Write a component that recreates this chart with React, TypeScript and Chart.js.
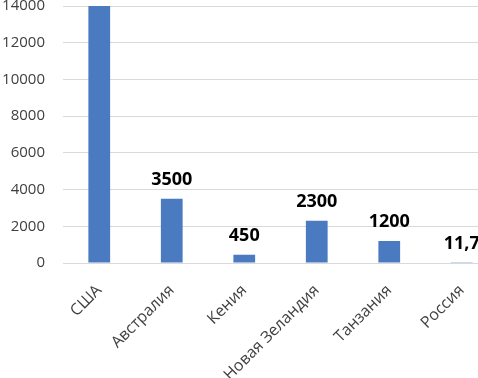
import React, { useEffect, useRef } from "react";
import { Chart, registerables } from "chart.js";

Chart.register(...registerables);

const categories: string[] = ["США", "Австралия", "Кения", "Новая Зеландия", "Танзания", "Россия"];
const values: number[] = [14000, 3500, 450, 2300, 1200, 11.7];
const yMin = 0;
const yMax = 14000;
const yStep = 2000;

const FONT = "'Open Sans', 'DejaVu Sans', sans-serif";

const dataLabelPlugin = {
  id: "dataLabels",
  afterDatasetsDraw(chart: any) {
    const ctx = chart.ctx;
    const meta = chart.getDatasetMeta(0);
    ctx.save();
    ctx.font = `bold 18px ${FONT}`;
    ctx.fillStyle = "#000000";
    ctx.textAlign = "center";
    ctx.textBaseline = "alphabetic";
    meta.data.forEach((bar: any, i: number) => {
      const v = values[i];
      const txt = String(v).replace(".", ",");
      ctx.fillText(txt, bar.x, bar.y - 14);
    });
    ctx.restore();
  },
};

export default function App() {
  const ref = useRef<HTMLCanvasElement | null>(null);
  useEffect(() => {
    if (!ref.current) return;
    const chart = new Chart(ref.current, {
      type: "bar",
      data: {
        labels: categories,
        datasets: [
          {
            data: values,
            backgroundColor: "#4a7bc0",
            barPercentage: 0.6,
            categoryPercentage: 0.5,
          },
        ],
      },
      options: {
        animation: false,
        responsive: false,
        devicePixelRatio: 1,
        layout: { padding: { top: 36, right: 32, bottom: 0, left: 0 } },
        plugins: { legend: { display: false }, tooltip: { enabled: false } },
        scales: {
          x: {
            grid: { display: false, drawTicks: false },
            border: { display: true, color: "#d9d9d9", width: 1 },
            ticks: {
              minRotation: 45,
              maxRotation: 45,
              autoSkip: false,
              padding: 18,
              color: "#404040",
              font: { family: FONT, size: 16 },
            },
            afterFit: (s: any) => {
              s.height = 115;
            },
          },
          y: {
            min: yMin,
            max: yMax,
            grid: { color: "#d9d9d9", drawTicks: false },
            border: { display: false },
            ticks: {
              stepSize: yStep,
              padding: 18,
              color: "#404040",
              font: { family: FONT, size: 15 },
              callback: (v: any) => String(v),
            },
            afterFit: (s: any) => {
              s.width = 63;
            },
          },
        },
      },
      plugins: [dataLabelPlugin],
    });
    return () => chart.destroy();
  }, []);
  return (
    <div
      style={{
        position: "fixed",
        left: 0,
        top: 0,
        width: 478,
        height: 378,
        overflow: "hidden",
        background: "#ffffff",
      }}
    >
      <canvas
        ref={ref}
        width={530}
        height={408}
        style={{ position: "absolute", left: 0, top: -30, width: 530, height: 408 }}
      />
    </div>
  );
}
